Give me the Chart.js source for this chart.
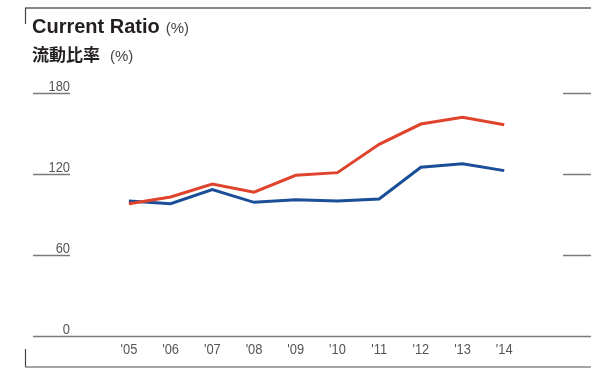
<!DOCTYPE html>
<html lang="ja">
<head>
    <meta charset="UTF-8">
    <title>Current Ratio</title>
    <script src="https://cdn.jsdelivr.net/npm/chart.js@4"></script>
    <style>
        html, body {
            margin: 0;
            padding: 0;
            background: #fff;
        }
        .chart-box {
            position: relative;
            width: 591px;
            height: 368px;
        }
    </style>
</head>
<body>
    <div class="chart-box">
        <canvas id="ratioChart"></canvas>
    </div>

    <script>
        // fiscal years and current ratio (%)
        const years = ["'05", "'06", "'07", "'08", "'09", "'10", "'11", "'12", "'13", "'14"];
        const redSeries = [98, 103, 112.5, 106.5, 119, 121, 142, 157, 162, 156.5];
        const blueSeries = [100, 98, 108.5, 99, 101, 100, 101.5, 125, 127.5, 122.5];
        const yTicks = [0, 60, 120, 180];

        const labelFont = "15px 'Liberation Sans', Arial, sans-serif";
        const squeeze = 0.86; // axis digits are set in a narrow face

        // draw text squeezed horizontally around anchor x
        function narrowText(ctx, text, x, y) {
            ctx.save();
            ctx.translate(x, y);
            ctx.scale(squeeze, 1);
            ctx.fillText(text, 0, 0);
            ctx.restore();
        }

        // gridline stubs, tick labels, title and frame lines
        const decorations = {
            id: "decorations",
            beforeDatasetsDraw(chart) {
                const ctx = chart.ctx;
                const x = chart.scales.x;
                const y = chart.scales.y;
                const area = chart.chartArea;
                ctx.save();

                // horizontal grid pieces at left and right
                yTicks.forEach(v => {
                    const py = Math.round(y.getPixelForValue(v)) + 0.5;
                    ctx.strokeStyle = "#7a7a7a";
                    ctx.lineWidth = 1.6;
                    ctx.beginPath();
                    if (v === 0) {
                        ctx.moveTo(area.left, py);
                        ctx.lineTo(area.right, py);
                    } else {
                        ctx.moveTo(area.left, py);
                        ctx.lineTo(70, py);
                        ctx.moveTo(563, py);
                        ctx.lineTo(area.right, py);
                    }
                    ctx.stroke();

                    ctx.fillStyle = "#555";
                    ctx.font = labelFont;
                    ctx.textAlign = "right";
                    ctx.textBaseline = "alphabetic";
                    narrowText(ctx, String(v), 70, py - 3);
                });

                // year labels under the zero line
                ctx.fillStyle = "#555";
                ctx.font = labelFont;
                ctx.textAlign = "center";
                ctx.textBaseline = "alphabetic";
                years.forEach((label, i) => {
                    narrowText(ctx, label, x.getPixelForValue(i), 354);
                });

                // frame: top rule with left tick, bottom rule with left tick
                ctx.strokeStyle = "#888";
                ctx.lineWidth = 2;
                ctx.beginPath();
                ctx.moveTo(25, 8);
                ctx.lineTo(591, 8);
                ctx.stroke();
                ctx.strokeStyle = "#444";
                ctx.lineWidth = 1.2;
                ctx.beginPath();
                ctx.moveTo(25.5, 8);
                ctx.lineTo(25.5, 24);
                ctx.moveTo(25.5, 349);
                ctx.lineTo(25.5, 367);
                ctx.stroke();
                ctx.strokeStyle = "#888";
                ctx.lineWidth = 1.5;
                ctx.beginPath();
                ctx.moveTo(25, 367);
                ctx.lineTo(591, 367);
                ctx.stroke();

                // titles
                ctx.textAlign = "left";
                ctx.fillStyle = "#231f20";
                ctx.font = "bold 20px 'Liberation Sans', Arial, sans-serif";
                ctx.fillText("Current Ratio", 32, 33);
                let w = ctx.measureText("Current Ratio").width;
                ctx.fillStyle = "#444";
                ctx.font = "15px 'Liberation Sans', Arial, sans-serif";
                ctx.fillText("(%)", 32 + w + 6, 33);

                ctx.fillStyle = "#231f20";
                ctx.font = "bold 17px 'Noto Sans CJK JP', sans-serif";
                ctx.fillText("流動比率", 32, 61);
                w = ctx.measureText("流動比率").width;
                ctx.fillStyle = "#444";
                ctx.font = "15px 'Liberation Sans', Arial, sans-serif";
                ctx.fillText("(%)", 32 + w + 10, 61);

                ctx.restore();
            }
        };

        const toPoints = arr => arr.map((v, i) => ({ x: i, y: v }));

        new Chart(document.getElementById("ratioChart"), {
            type: "line",
            data: {
                datasets: [
                    {
                        label: "Red",
                        data: toPoints(redSeries),
                        borderColor: "#e0432c",
                        borderWidth: 3,
                        pointRadius: 0,
                        tension: 0
                    },
                    {
                        label: "Blue",
                        data: toPoints(blueSeries),
                        borderColor: "#1a4e98",
                        borderWidth: 3,
                        pointRadius: 0,
                        tension: 0
                    }
                ]
            },
            options: {
                responsive: true,
                maintainAspectRatio: false,
                animation: false,
                layout: {
                    padding: { left: 33, right: 0, top: 93, bottom: 32 }
                },
                scales: {
                    x: { type: "linear", display: false, min: -2.3, max: 11.08 },
                    y: { display: false, min: 0, max: 180 }
                },
                plugins: {
                    legend: { display: false },
                    tooltip: { enabled: false }
                }
            },
            plugins: [decorations]
        });
    </script>
</body>
</html>
